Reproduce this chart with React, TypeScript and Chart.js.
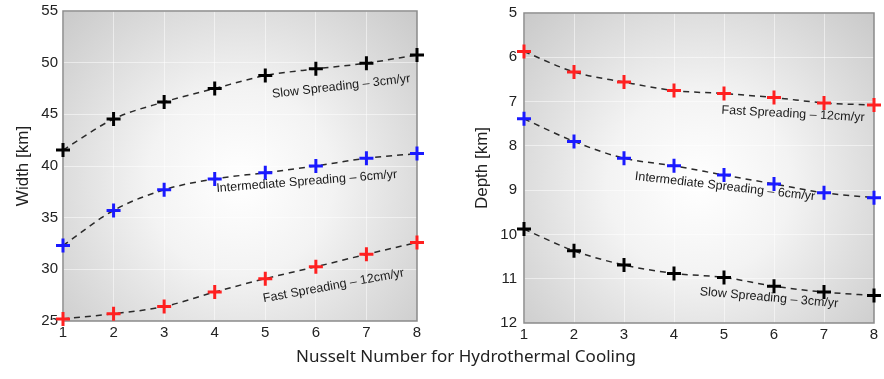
import React, { useEffect, useRef } from "react";
import { Chart, registerables } from "chart.js";
Chart.register(...registerables);

const nusselt = [1, 2, 3, 4, 5, 6, 7, 8];
const widthSlow = [41.55, 44.55, 46.2, 47.5, 48.75, 49.4, 49.95, 50.75];
const widthInter = [32.3, 35.7, 37.7, 38.75, 39.35, 40.0, 40.75, 41.2];
const widthFast = [25.2, 25.7, 26.4, 27.8, 29.1, 30.25, 31.45, 32.6];
const depthFast = [5.87, 6.33, 6.56, 6.75, 6.82, 6.91, 7.03, 7.08];
const depthInter = [7.39, 7.9, 8.28, 8.45, 8.66, 8.86, 9.06, 9.17];
const depthSlow = [9.88, 10.37, 10.69, 10.88, 10.97, 11.17, 11.3, 11.38];
const widthTicks = [25, 30, 35, 40, 45, 50, 55];
const depthTicks = [5, 6, 7, 8, 9, 10, 11, 12];
const seriesNames = ["Slow Spreading \u2013 3cm/yr", "Intermediate Spreading \u2013 6cm/yr", "Fast Spreading \u2013 12cm/yr"];

const FONT = "'Liberation Sans', Arial, sans-serif";

type Lbl = { text: string; x: number; y: number; rot: number };

const bgPlugin = {
  id: "bgGrad",
  beforeDraw(chart: any) {
    const { ctx, chartArea: a } = chart;
    const cx = a.left + a.width * 0.5;
    const cy = a.top + a.height * 0.55;
    const r = Math.max(a.width, a.height) * 0.75;
    const g = ctx.createRadialGradient(cx, cy, 0, cx, cy, r);
    g.addColorStop(0, "#ffffff");
    g.addColorStop(0.35, "#f3f3f3");
    g.addColorStop(1, "#c4c4c4");
    ctx.save();
    ctx.fillStyle = g;
    ctx.fillRect(a.left, a.top, a.width, a.height);
    ctx.restore();
  },
  beforeDatasetsDraw(chart: any) {
    const { ctx, chartArea: a } = chart;
    ctx.save();
    ctx.strokeStyle = "#8a8a8a";
    ctx.lineWidth = 1.5;
    ctx.strokeRect(a.left, a.top, a.width, a.height);
    ctx.restore();
  },
};

const labelPlugin = {
  id: "lineLabels",
  afterDatasetsDraw(chart: any) {
    const labels: Lbl[] = chart.options.plugins.lineLabels?.items || [];
    const { ctx } = chart;
    const xs = chart.scales.x;
    const ys = chart.scales.y;
    ctx.save();
    ctx.font = `12.5px ${FONT}`;
    ctx.fillStyle = "#1a1a1a";
    ctx.textAlign = "center";
    ctx.textBaseline = "middle";
    for (const l of labels) {
      ctx.save();
      ctx.translate(xs.getPixelForValue(l.x), ys.getPixelForValue(l.y));
      ctx.rotate((l.rot * Math.PI) / 180);
      ctx.fillText(l.text, 0, 0);
      ctx.restore();
    }
    ctx.restore();
  },
};

function mkDataset(data: number[], color: string) {
  return {
    data,
    borderColor: "#2a2a2a",
    borderWidth: 1.5,
    borderDash: [6, 5],
    tension: 0.35,
    cubicInterpolationMode: "monotone" as const,
    pointStyle: "cross" as const,
    pointRadius: 7,
    pointBorderWidth: 3,
    pointBorderColor: color,
    pointBackgroundColor: color,
    fill: false,
    clip: false,
  };
}

function Panel(props: {
  series: { data: number[]; color: string }[];
  ticks: number[];
  reverse: boolean;
  title: string;
  labels: Lbl[];
  left: number;
  width: number;
  height: number;
  padTop: number;
  padRight: number;
  titlePad: number;
  tickPad: number;
}) {
  const ref = useRef<HTMLCanvasElement>(null);
  useEffect(() => {
    const ticks = props.ticks;
    const chart = new Chart(ref.current!, {
      type: "line",
      data: {
        labels: nusselt,
        datasets: props.series.map((s) => mkDataset(s.data, s.color)),
      },
      options: {
        animation: false,
        responsive: false,
        maintainAspectRatio: false,
        layout: { padding: { top: props.padTop, right: props.padRight, left: 0, bottom: 0 } },
        plugins: {
          legend: { display: false },
          tooltip: { enabled: false },
          lineLabels: { items: props.labels },
        } as any,
        scales: {
          x: {
            type: "linear",
            min: 1,
            max: 8,
            afterBuildTicks: (s: any) => {
              s.ticks = nusselt.map((v) => ({ value: v }));
            },
            afterFit: (s: any) => {
              s.height = 24;
              s.paddingLeft = 0;
              s.paddingRight = 0;
            },
            grid: { color: "rgba(255,255,255,0.5)", drawTicks: false },
            border: { display: false },
            ticks: { color: "#222", font: { family: FONT, size: 15 }, padding: 3, maxRotation: 0 },
          },
          y: {
            type: "linear",
            min: ticks[0],
            max: ticks[ticks.length - 1],
            reverse: props.reverse,
            afterBuildTicks: (s: any) => {
              s.ticks = ticks.map((v) => ({ value: v }));
            },
            afterFit: (s: any) => {
              s.width = 63;
              s.paddingTop = 0;
              s.paddingBottom = 0;
            },
            grid: { color: "rgba(255,255,255,0.5)", drawTicks: false },
            border: { display: false },
            title: {
              display: true,
              text: props.title,
              color: "#222",
              font: { family: FONT, size: 17 },
              padding: { top: props.titlePad, bottom: 0 },
            },
            ticks: { color: "#222", font: { family: FONT, size: 15 }, padding: props.tickPad },
          },
        },
      },
      plugins: [bgPlugin, labelPlugin],
    } as any);
    return () => chart.destroy();
  }, []);
  return (
    <div style={{ position: "absolute", left: props.left, top: 0, width: props.width, height: props.height }}>
      <canvas
        ref={ref}
        width={props.width}
        height={props.height}
        style={{ width: props.width, height: props.height }}
      />
    </div>
  );
}

export default function App() {
  return (
    <div style={{ position: "fixed", left: 0, top: 0, width: 884, height: 379, background: "#fff", overflow: "hidden" }}>
      <Panel
        left={0}
        width={427}
        height={345}
        padTop={11}
        padRight={8}
        titlePad={13}
        tickPad={5}
        ticks={widthTicks}
        reverse={false}
        title="Width [km]"
        series={[
          { data: widthSlow, color: "#000000" },
          { data: widthInter, color: "#1a1aff" },
          { data: widthFast, color: "#ff2020" },
        ]}
        labels={[
          { text: seriesNames[0], x: 6.5, y: 47.7, rot: -6.5 },
          { text: seriesNames[1], x: 5.82, y: 38.5, rot: -4.5 },
          { text: seriesNames[2], x: 6.35, y: 28.4, rot: -10.5 },
        ]}
      />
      <Panel
        left={461}
        width={423}
        height={347}
        padTop={13}
        padRight={5}
        titlePad={11}
        tickPad={7}
        ticks={depthTicks}
        reverse={true}
        title="Depth [km]"
        series={[
          { data: depthFast, color: "#ff2020" },
          { data: depthInter, color: "#1a1aff" },
          { data: depthSlow, color: "#000000" },
        ]}
        labels={[
          { text: seriesNames[2], x: 6.38, y: 7.28, rot: 3 },
          { text: seriesNames[1], x: 5.02, y: 8.92, rot: 6.5 },
          { text: seriesNames[0], x: 5.9, y: 11.43, rot: 5 },
        ]}
      />
      <div
        style={{
          position: "absolute",
          left: 0,
          width: 932,
          top: 344,
          textAlign: "center",
          fontFamily: "'Noto Sans', 'Open Sans', sans-serif",
          fontSize: 17,
          color: "#222",
        }}
      >
        Nusselt Number for Hydrothermal Cooling
      </div>
    </div>
  );
}
